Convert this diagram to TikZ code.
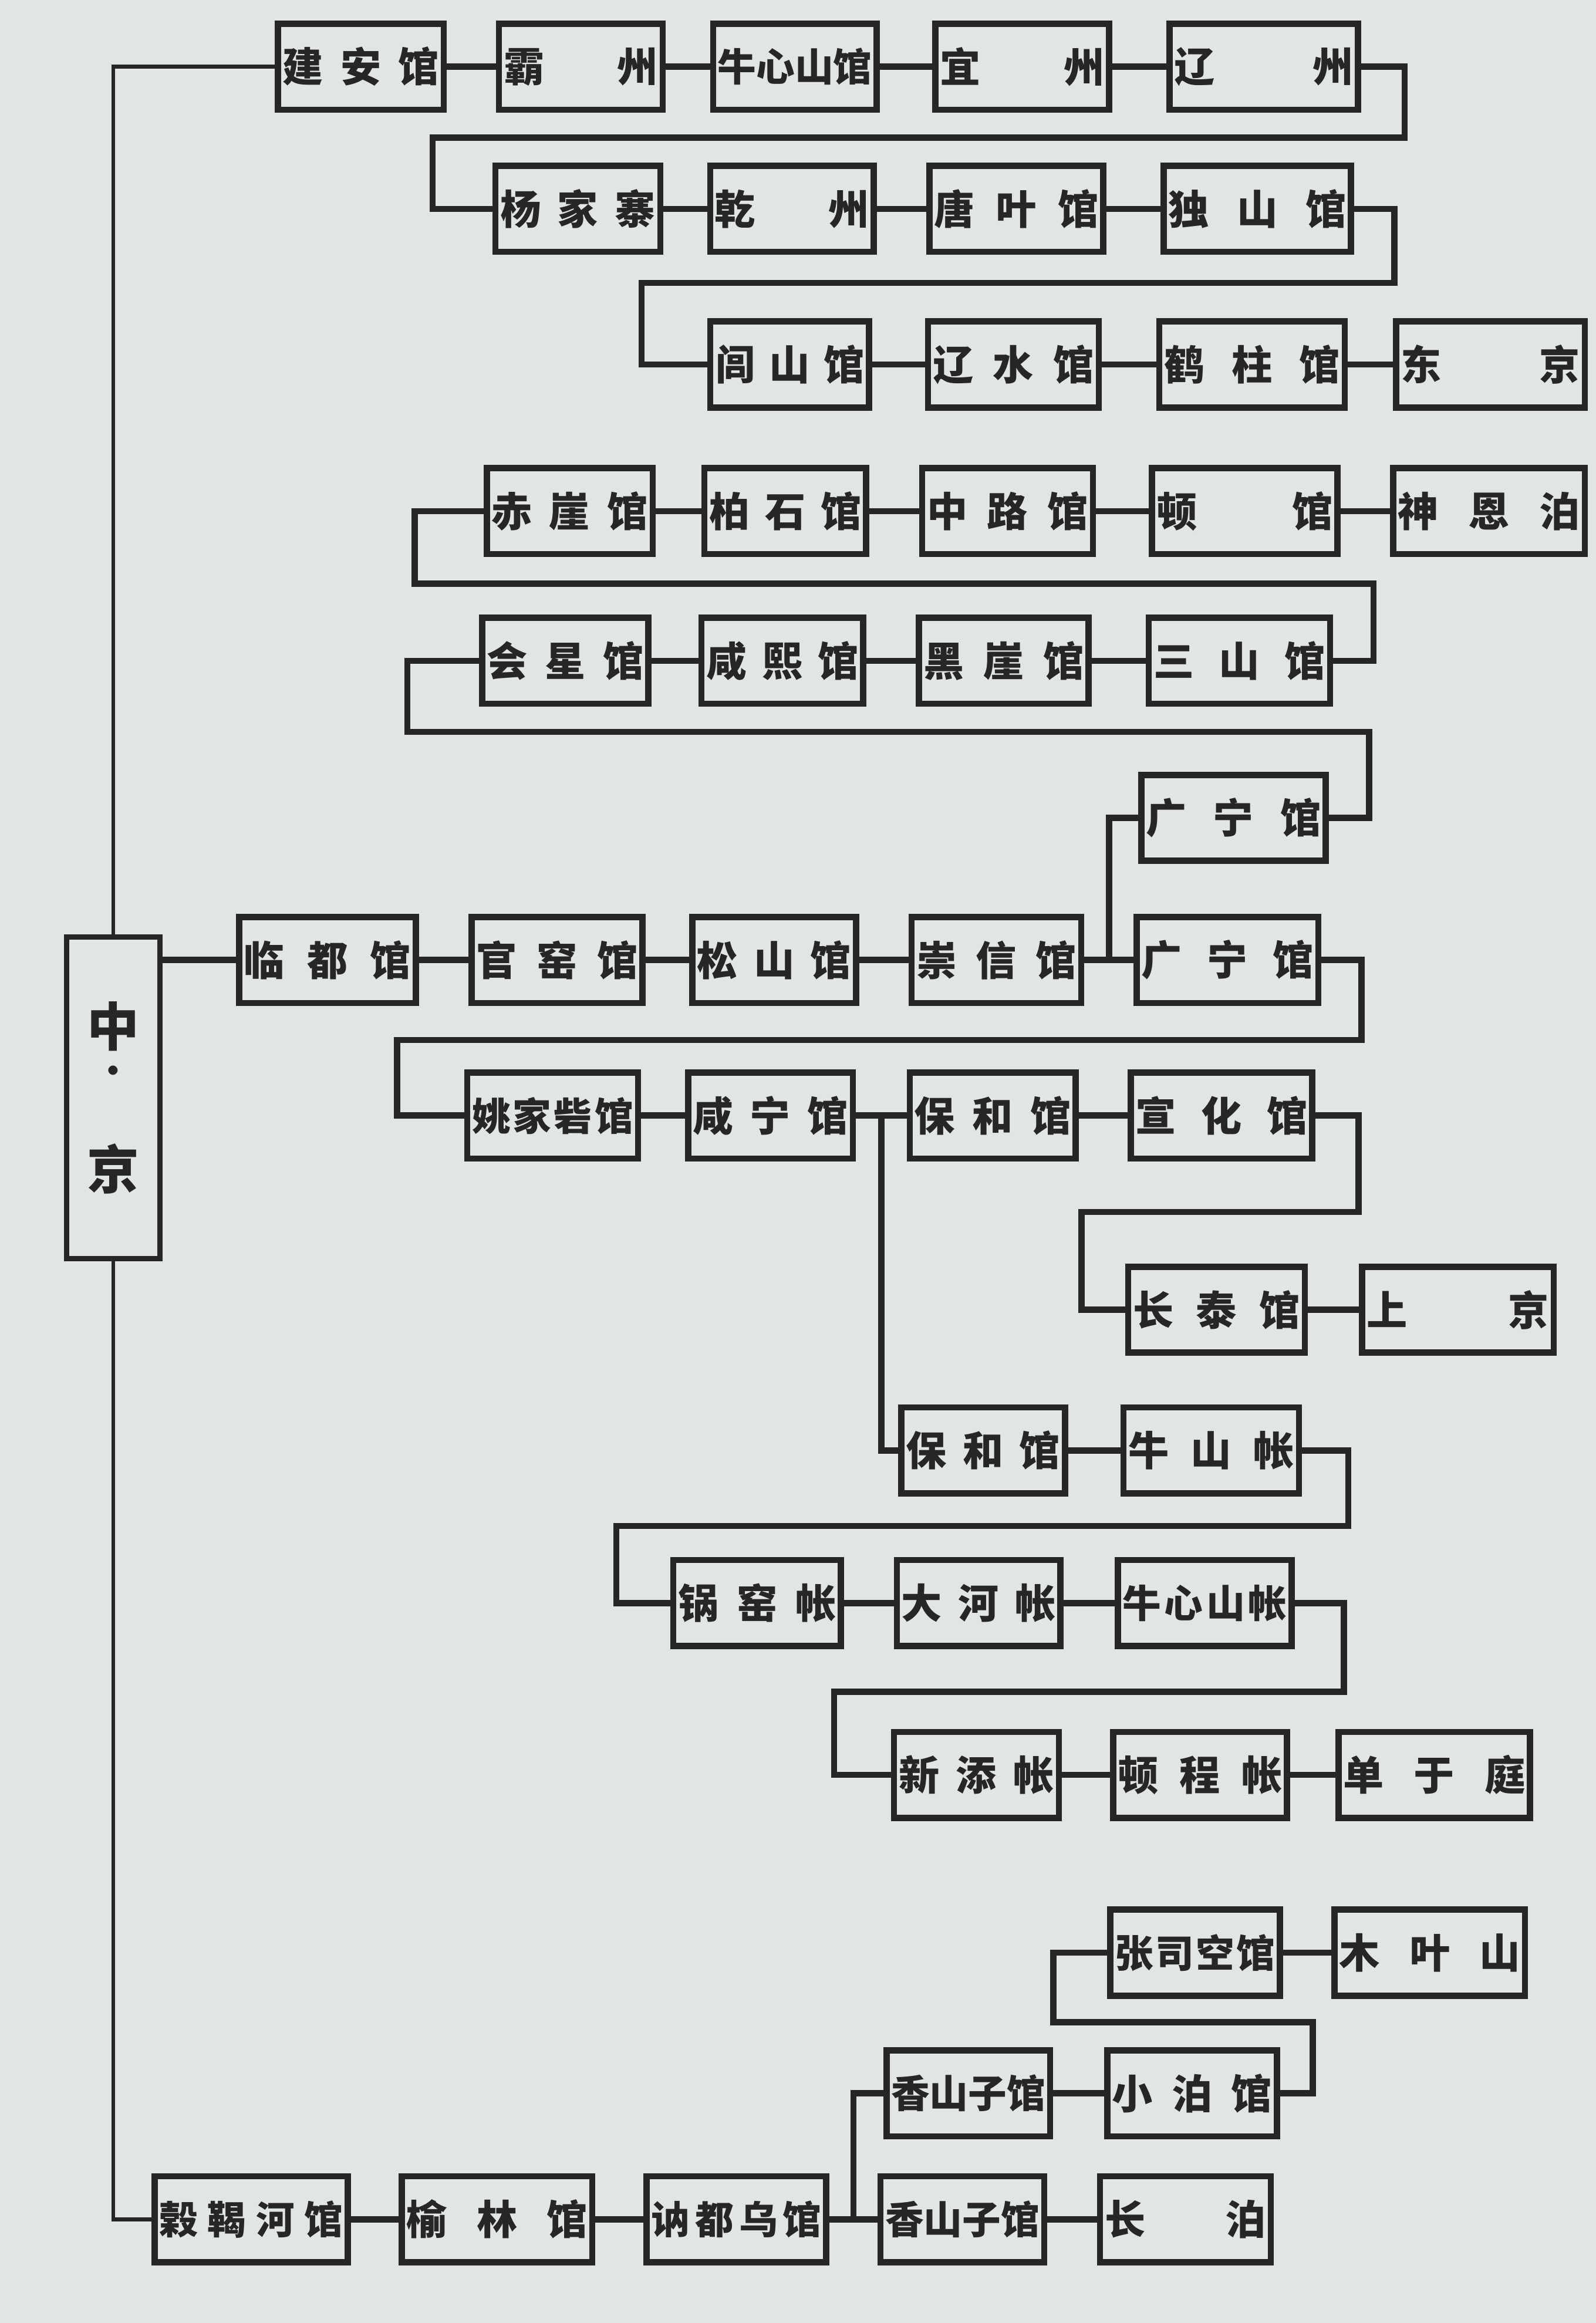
\documentclass[tikz,border=0pt]{standalone}
\usepackage{fontspec}
\newfontfamily\cjk{Noto Sans CJK SC}
\usetikzlibrary{calc}
\definecolor{ink}{RGB}{38,38,38}
\definecolor{paper}{RGB}{226,229,229}
\makeatletter
\newcommand\zhan[1]{\noindent\hbox to\hsize{\zhan@#1\@nil}}
\def\zhan@#1#2\@nil{#1\ifx\relax#2\relax\else\hfill\zhan@#2\@nil\fi}
\makeatother
\tikzstyle{link}    = [draw=ink, line width=3pt]
\tikzstyle{trunk}   = [draw=ink, line width=1.8pt]
\tikzstyle{capital} = [draw=ink, line width=2.6pt, text=ink, minimum width=1.575cm, minimum height=5.425cm, inner sep=0pt, align=center, font=\cjk\bfseries\fontsize{25pt}{25pt}\selectfont]
\tikzset{stn/.style={draw=ink, line width=3pt, text=ink, font=\cjk\bfseries\fontsize{19.5pt}{19.5pt}\selectfont, text width=#1, minimum height=1.45cm, inner xsep=0.08cm, inner ysep=0pt}, stn/.default=2.7cm,
         stnfour/.style={stn=#1, font=\cjk\bfseries\fontsize{18.5pt}{18.5pt}\selectfont}}

\begin{document}
\begin{tikzpicture}[x=0.025cm, y=-0.025cm]
    \useasboundingbox (0,0) rectangle (1077,1568);
    \fill [paper] (0,0) rectangle (1077,1568);

    \node (zhongjing) at (76.5,741) [capital] {中\\[-0.25cm]{\fontsize{16pt}{16pt}\selectfont ·}\\[0.9cm]京};

    \node (jianan)      at (243.5,45)  [stn=2.64cm] {\zhan{建安馆}};
    \node (bazhou)      at (392,45)    [stn=2.6cm]  {\zhan{霸州}};
    \node (niuxinshan)  at (536.5,45)  [stnfour=2.6cm] {\zhan{牛心山馆}};
    \node (yizhou)      at (690,45)    [stn=2.77cm] {\zhan{宜州}};
    \node (liaozhou)    at (853,45)    [stn=3.02cm] {\zhan{辽州}};

    \node (yangjiazhai) at (390,141)   [stn=2.62cm] {\zhan{杨家寨}};
    \node (qianzhou)    at (534.5,141) [stn=2.6cm]  {\zhan{乾州}};
    \node (tangye)      at (686,141)   [stn=2.77cm] {\zhan{唐叶馆}};
    \node (dushan)      at (848.5,141) [stn=3.0cm]  {\zhan{独山馆}};

    \node (lvshan)      at (533,246)   [stn=2.52cm] {\zhan{闾山馆}};
    \node (liaoshui)    at (684,246)   [stn=2.72cm] {\zhan{辽水馆}};
    \node (hezhu)       at (845,246)   [stn=2.97cm] {\zhan{鹤柱馆}};
    \node (dongjing)    at (1006,246)  [stn=3.02cm] {\zhan{东京}};

    \node (chiya)       at (384.5,345) [stn=2.64cm] {\zhan{赤崖馆}};
    \node (baishi)      at (530,345)   [stn=2.57cm] {\zhan{柏石馆}};
    \node (zhonglu)     at (680,345)   [stn=2.72cm] {\zhan{中路馆}};
    \node (dunguan)     at (840,345)   [stn=2.97cm] {\zhan{顿馆}};
    \node (shenen)      at (1005,345)  [stn=3.07cm] {\zhan{神恩泊}};

    \node (huixing)     at (381.5,446) [stn=2.64cm] {\zhan{会星馆}};
    \node (xianxi)      at (528,446)   [stn=2.57cm] {\zhan{咸熙馆}};
    \node (heiya)       at (677.5,446) [stn=2.7cm]  {\zhan{黑崖馆}};
    \node (sanshan)     at (836.5,446) [stn=2.9cm]  {\zhan{三山馆}};

    \node (guangning1)  at (832.5,552) [stn=2.95cm] {\zhan{广宁馆}};

    \node (lindu)       at (221,648)   [stn=2.82cm] {\zhan{临都馆}};
    \node (guanyao)     at (376,648)   [stn=2.72cm] {\zhan{官窑馆}};
    \node (songshan)    at (522.5,648) [stn=2.6cm]  {\zhan{松山馆}};
    \node (chongxin)    at (672.5,648) [stn=2.7cm]  {\zhan{崇信馆}};
    \node (guangning2)  at (828.5,648) [stn=2.9cm]  {\zhan{广宁馆}};

    \node (yaojiazhai)  at (373,753)   [stnfour=2.72cm] {\zhan{姚家砦馆}};
    \node (xianning)    at (520,753)   [stn=2.62cm] {\zhan{咸宁馆}};
    \node (baohe1)      at (670,753)   [stn=2.64cm] {\zhan{保和馆}};
    \node (xuanhua)     at (824.5,753) [stn=2.9cm]  {\zhan{宣化馆}};

    \node (changtai)    at (821,884)   [stn=2.82cm] {\zhan{长泰馆}};
    \node (shangjing)   at (984,884)   [stn=3.07cm] {\zhan{上京}};

    \node (baohe2)      at (663.5,979) [stn=2.6cm]  {\zhan{保和馆}};
    \node (niushan)     at (817.5,979) [stn=2.8cm]  {\zhan{牛山帐}};

    \node (guoyao)      at (511,1082)  [stn=2.67cm] {\zhan{锅窑帐}};
    \node (dahe)        at (660.5,1082)[stn=2.6cm]  {\zhan{大河帐}};
    \node (niuxinzhang) at (813,1082)  [stnfour=2.77cm] {\zhan{牛心山帐}};

    \node (xintian)     at (659,1198)  [stn=2.62cm] {\zhan{新添帐}};
    \node (dunchen)     at (810,1198)  [stn=2.77cm] {\zhan{顿程帐}};
    \node (chanyu)      at (968,1198)  [stn=3.07cm] {\zhan{单于庭}};

    \node (zhangsikong) at (806.5,1318)[stnfour=2.7cm] {\zhan{张司空馆}};
    \node (muye)        at (965,1318)  [stn=3.05cm] {\zhan{木叶山}};

    \node (xiangshan1)  at (653.5,1413)[stnfour=2.6cm] {\zhan{香山子馆}};
    \node (xiaobo)      at (804.5,1413)[stn=2.7cm]  {\zhan{小泊馆}};

    \node (gujie)       at (169.5,1498)[stnfour=3.1cm] {\zhan{榖鞨河馆}};
    \node (yulin)       at (335.5,1498)[stn=3.05cm] {\zhan{榆林馆}};
    \node (nedu)        at (497,1498)  [stnfour=2.87cm] {\zhan{讷都乌馆}};
    \node (xiangshan2)  at (649.5,1498)[stnfour=2.6cm] {\zhan{香山子馆}};
    \node (changbo)     at (800,1498)  [stn=2.72cm] {\zhan{长泊}};

    \coordinate (fork1) at ($(chongxin.east)!0.5!(guangning2.west)$);
    \coordinate (fork2) at ($(xianning.east)!0.5!(baohe1.west)$);
    \coordinate (fork3) at ($(nedu.east)!0.5!(xiangshan2.west)$);

    \draw [trunk] (zhongjing.north) |- (jianan.west);
    \draw [trunk] (zhongjing.south) |- (gujie.west);

    \draw [link] (jianan) -- (bazhou) -- (niuxinshan) -- (yizhou) -- (liaozhou);
    \draw [link] (liaozhou.east) -| (948,93) -| (292,141) -- (yangjiazhai.west);
    \draw [link] (yangjiazhai) -- (qianzhou) -- (tangye) -- (dushan);
    \draw [link] (dushan.east) -| (941,191) -| (433,246) -- (lvshan.west);
    \draw [link] (lvshan) -- (liaoshui) -- (hezhu) -- (dongjing);

    \draw [link] (chiya) -- (baishi) -- (zhonglu) -- (dunguan) -- (shenen);
    \draw [link] (chiya.west) -| (280,394) -| (927,446) -- (sanshan.east);
    \draw [link] (huixing) -- (xianxi) -- (heiya) -- (sanshan);
    \draw [link] (huixing.west) -| (275,494) -| (924,552) -- (guangning1.east);
    \draw [link] (guangning1.west) -| (fork1);

    \draw [link] (zhongjing.east |- lindu.west) -- (lindu) -- (guanyao) -- (songshan) -- (chongxin) -- (guangning2);
    \draw [link] (guangning2.east) -| (919,702) -| (268,753) -- (yaojiazhai.west);
    \draw [link] (yaojiazhai) -- (xianning) -- (baohe1) -- (xuanhua);
    \draw [link] (xuanhua.east) -| (917,818) -| (730,884) -- (changtai.west);
    \draw [link] (changtai) -- (shangjing);

    \draw [link] (fork2) |- (baohe2.west);
    \draw [link] (baohe2) -- (niushan);
    \draw [link] (niushan.east) -| (910,1030) -| (416,1082) -- (guoyao.west);
    \draw [link] (guoyao) -- (dahe) -- (niuxinzhang);
    \draw [link] (niuxinzhang.east) -| (907,1142) -| (563,1198) -- (xintian.west);
    \draw [link] (xintian) -- (dunchen) -- (chanyu);

    \draw [link] (zhangsikong) -- (muye);
    \draw [link] (zhangsikong.west) -| (711,1365) -| (886,1413) -- (xiaobo.east);
    \draw [link] (xiangshan1) -- (xiaobo);
    \draw [link] (xiangshan1.west) -| (fork3);
    \draw [link] (gujie) -- (yulin) -- (nedu) -- (xiangshan2) -- (changbo);
\end{tikzpicture}
\end{document}
